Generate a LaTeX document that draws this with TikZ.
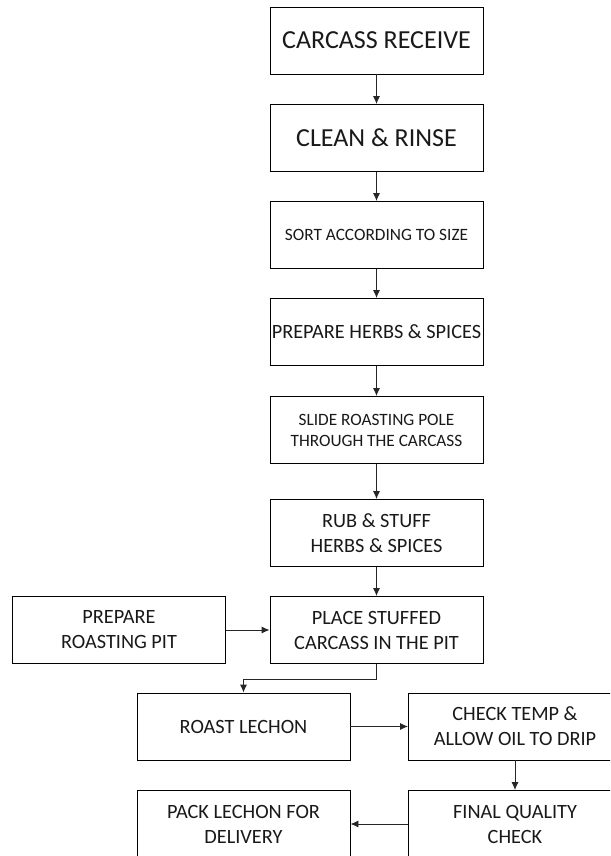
\documentclass[tikz,border=0pt]{standalone}
\usepackage{fontspec}
\setmainfont{Carlito}
\usetikzlibrary{arrows.meta}

\begin{document}
\begin{tikzpicture}[x=1pt,y=-1pt,
    stepbox/.style={draw, line width=0.9pt, minimum width=213pt, minimum height=67pt,
      inner sep=0pt, align=center, text=black!90},
    big/.style={font=\fontsize{26}{31}\selectfont},
    mid/.style={font=\fontsize{20.3}{25}\selectfont},
    small/.style={font=\fontsize{17.3}{21}\selectfont},
    flow/.style={-{Latex[length=8pt,width=7pt]}, line width=0.9pt, black!85}]
    \useasboundingbox (0,0) rectangle (610,856);
    \clip (0,0) rectangle (610,856);
    % main column
    \node[stepbox, big] (receive) at (376.5,40.5) {CARCASS RECEIVE};
    \node[stepbox, big] (clean) at (376.5,138) {CLEAN \& RINSE};
    \node[stepbox, small] (sort) at (376.5,235) {SORT ACCORDING TO SIZE};
    \node[stepbox, mid] (herbs) at (376.5,332) {PREPARE HERBS \& SPICES};
    \node[stepbox, small] (pole) at (376.5,430) {SLIDE ROASTING POLE\\THROUGH THE CARCASS};
    \node[stepbox, mid] (rub) at (376.5,533) {RUB \& STUFF\\HERBS \& SPICES};
    \node[stepbox, mid] (place) at (376.5,630) {PLACE STUFFED\\CARCASS IN THE PIT};
    \node[stepbox, mid] (pit) at (119,630) {PREPARE\\ROASTING PIT};
    % lower part
    \node[stepbox, mid] (roast) at (243.5,726.5) {ROAST LECHON};
    \node[stepbox, mid] (check) at (515,726.5) {CHECK TEMP \&\\ALLOW OIL TO DRIP};
    \node[stepbox, mid] (final) at (515,824) {FINAL QUALITY\\CHECK};
    \node[stepbox, mid] (pack) at (243.5,824) {PACK LECHON FOR\\DELIVERY};
    % arrows
    \draw[flow] (receive) -- (clean);
    \draw[flow] (clean) -- (sort);
    \draw[flow] (sort) -- (herbs);
    \draw[flow] (herbs) -- (pole);
    \draw[flow] (pole) -- (rub);
    \draw[flow] (rub) -- (place);
    \draw[flow] (pit) -- (place);
    \draw[flow] (place.south) -- ++(0,15) -| (roast.north);
    \draw[flow] (roast) -- (check);
    \draw[flow] (check) -- (final);
    \draw[flow] (final) -- (pack);
\end{tikzpicture}
\end{document}
